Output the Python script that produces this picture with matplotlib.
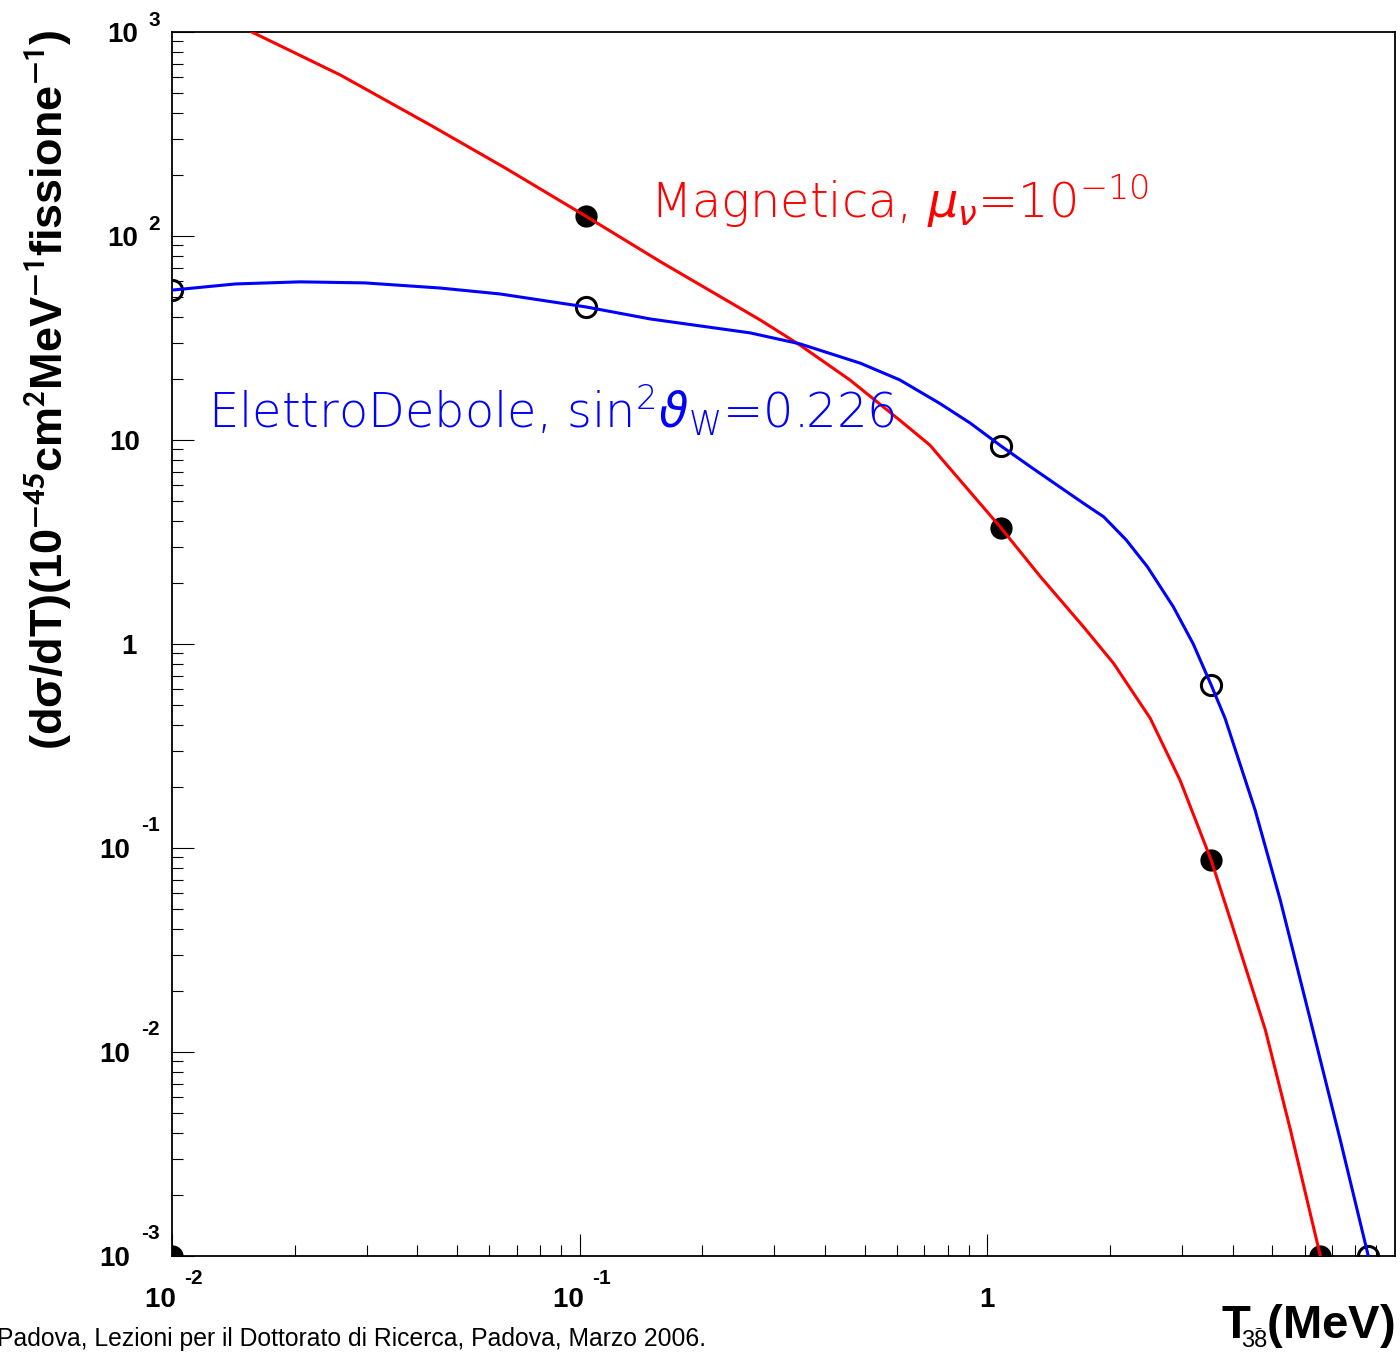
"""Neutrino-electron scattering spectra: weak vs magnetic moment (ROOT-style log-log plot)."""

import matplotlib

matplotlib.use("Agg")
import matplotlib.pyplot as plt
import matplotlib.transforms as mtransforms
from matplotlib.ticker import FixedLocator, LogLocator, NullFormatter

plt.rcParams["font.family"] = ["Liberation Sans", "DejaVu Sans"]
# thin math font for the in-plot annotations
plt.rcParams["mathtext.fontset"] = "custom"
plt.rcParams["mathtext.rm"] = "DejaVu Sans:light"
plt.rcParams["mathtext.it"] = "DejaVu Sans:oblique"
plt.rcParams["mathtext.bf"] = "DejaVu Sans:bold"

# magnetic-moment curve (red)
red_x = [0.0157, 0.0259, 0.043, 0.0658, 0.1036, 0.158, 0.277, 0.347, 0.46, 0.61,
         0.723, 0.765, 1.08, 1.349, 1.72, 2.04, 2.51, 2.97, 3.54, 3.95, 4.81, 5.54, 6.56]
red_y = [1000, 615, 350, 215, 125, 74.7, 38.8, 29.2, 19.7, 12.5,
         9.44, 8.27, 3.71, 2.14, 1.216, 0.804, 0.432, 0.215, 0.0873, 0.0443, 0.0128,
         0.00415, 0.001]

# electroweak curve (blue)
blue_x = [0.01, 0.0143, 0.0206, 0.0297, 0.0454, 0.0637, 0.1036, 0.149, 0.262, 0.347,
          0.488, 0.61, 0.765, 0.908, 1.08, 1.275, 1.72, 1.93, 2.19, 2.47, 2.86, 3.2,
          3.54, 3.83, 4.54, 5.23, 6.2, 7.34, 8.6]
blue_y = [54.3, 58.2, 59.6, 58.9, 55.6, 52, 44.9, 39.2, 33.5, 29.6,
          23.8, 19.7, 15.1, 12.1, 9.35, 7.4, 4.9, 4.2, 3.24, 2.39, 1.52, 1.0,
          0.63, 0.432, 0.153, 0.0556, 0.01435, 0.00371, 0.001]

# marker points
red_mx = [0.01, 0.1036, 1.08, 3.54, 6.56]
red_my = [0.001, 125, 3.71, 0.0873, 0.001]
blue_mx = [0.01, 0.1036, 1.08, 3.54, 8.6]
blue_my = [54.3, 44.9, 9.35, 0.63, 0.001]

# ROOT-style labels: mantissa as tick label, exponent drawn raised beside it
x_ticks = [0.01, 0.1, 1]
x_base = ["10   ", "10   ", "1"]
x_exp = ["-2", "-1", ""]
y_ticks = [1e-3, 1e-2, 1e-1, 1, 10, 1e2, 1e3]
y_base = ["10", "10", "10", "1", "10", "10", "10"]
y_exp = ["-3", "-2", "-1", "", "", "2", "3"]
y_pad = [30.2, 30.2, 30.2, 25.2, 23.0, 24.5, 24.5]  # points


def main():
    fig = plt.figure(figsize=(14.0, 13.52), dpi=100)
    ax = fig.add_axes([172 / 1400, 1 - 1256 / 1352, 1223 / 1400, 1224 / 1352])
    ax.set_xscale("log")
    ax.set_yscale("log")
    ax.set_xlim(0.01, 10)
    ax.set_ylim(1e-3, 1e3)

    ax.plot(red_mx, red_my, "o", ms=15, color="black", zorder=2)
    ax.plot(blue_mx, blue_my, "o", ms=14.5, mfc="none", mec="black", mew=2.2, zorder=2)
    ax.plot(red_x, red_y, color="#ff0000", lw=2.2, zorder=3)
    ax.plot(blue_x, blue_y, color="#0000ff", lw=2.2, zorder=3)

    ax.xaxis.set_major_locator(FixedLocator(x_ticks))
    ax.set_xticklabels(x_base)
    ax.yaxis.set_major_locator(FixedLocator(y_ticks))
    ax.set_yticklabels(y_base)
    for axis in (ax.xaxis, ax.yaxis):
        axis.set_minor_locator(LogLocator(base=10, subs=range(2, 10), numticks=20))
        axis.set_minor_formatter(NullFormatter())
    ax.tick_params(which="both", direction="in", top=False, right=False, width=0.8,
                   color="black", labelsize=20)
    ax.tick_params(which="major", length=16)
    ax.tick_params(axis="x", which="major", pad=22)
    ax.tick_params(which="minor", length=8)
    for tick, pad in zip(ax.yaxis.get_major_ticks(), y_pad):
        tick.set_pad(pad)
    for lab in ax.get_xticklabels() + ax.get_yticklabels():
        lab.set_fontweight("bold")
    for sp in ax.spines.values():
        sp.set_linewidth(1.3)

    # exponents
    ytr = mtransforms.blended_transform_factory(ax.transAxes, ax.transData)
    for val, e in zip(y_ticks, y_exp):
        if e:
            dy = 16 if e.startswith("-") else 8
            ax.annotate(e, xy=(-12 / 1223, val), xycoords=ytr, xytext=(0, dy),
                        textcoords="offset points", ha="right", va="center",
                        fontsize=15, fontweight="bold", annotation_clip=False)
    xtr = mtransforms.blended_transform_factory(ax.transData, ax.transAxes)
    for val, e in zip(x_ticks, x_exp):
        if e:
            ax.annotate(e, xy=(val, -22 / 1224), xycoords=xtr, xytext=(9, 0),
                        textcoords="offset points", ha="left", va="center",
                        fontsize=15, fontweight="bold", annotation_clip=False)

    ax.set_ylabel("(dσ/dT)(10$^{\\mathbf{-45}}$cm$^{\\mathbf{2}}$MeV$^{\\mathbf{-1}}$"
                  "fissione$^{\\mathbf{-1}}$)",
                  fontsize=32.5, fontweight="bold", va="center", ha="center",
                  math_fontfamily="stixsans")
    ax.yaxis.set_label_coords((48 - 172) / 1223, (1256 - 390) / 1224)
    ax.set_xlabel(r"T$_{\mathbf{e}}$(MeV)", fontsize=34, fontweight="bold", ha="right",
                  va="baseline", math_fontfamily="stixsans")
    ax.xaxis.set_label_coords(1.0, -(1338 - 1256) / 1224)

    ax.text((650 - 172) / 1223, (1256 - 218) / 1224,
            r"Magnetica, $\mu_{\nu}$=10$^{-10}$", transform=ax.transAxes,
            color="#ff0000", fontsize=34.5, va="baseline",
            family=["DejaVu Sans"], fontweight=200)
    ax.text((208 - 172) / 1223, (1256 - 428) / 1224,
            r"ElettroDebole, sin$^{2}\vartheta_{\rm W}$=0.226", transform=ax.transAxes,
            color="#0000ff", fontsize=34.5, va="baseline",
            family=["DejaVu Sans"], fontweight=200)

    fig.text(706 / 1400, 1 - 1346 / 1352,
             "Padova, Lezioni per il Dottorato di Ricerca, Padova, Marzo 2006.",
             ha="right", va="baseline", fontsize=17.8)
    fig.text(1254 / 1400, 1 - 1347 / 1352, "38", ha="center", va="baseline", fontsize=17,
             zorder=5, bbox=dict(facecolor="white", edgecolor="none", pad=0.5))

    fig.savefig("out.png", dpi=100)
    plt.close(fig)


if __name__ == "__main__":
    main()
